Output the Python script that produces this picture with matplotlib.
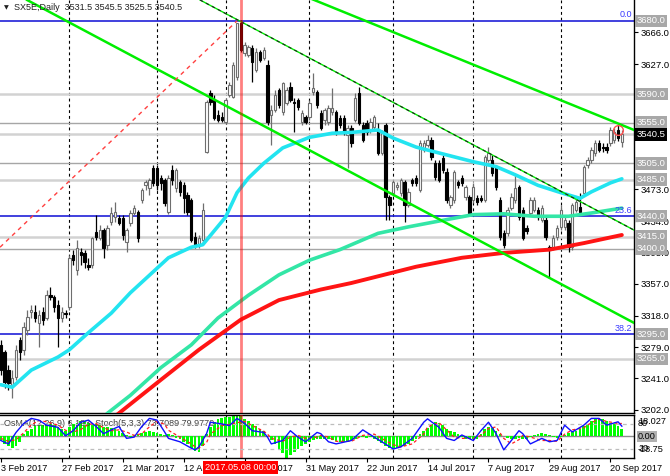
import matplotlib

matplotlib.use("Agg")
from matplotlib import pyplot as plt

plt.rcParams["font.family"] = ["Liberation Sans", "DejaVu Sans"]

# daily candles, 3 Feb 2017 .. 25 Sep 2017 (one per trading day)
opens = [
    3282, 3273, 3251, 3233, 3243, 3288, 3276, 3300, 3322, 3322,
    3309, 3322, 3315, 3343, 3341, 3331, 3315, 3321, 3329, 3392,
    3374, 3396, 3395, 3380, 3380, 3421, 3413, 3423, 3405, 3433,
    3439, 3438, 3438, 3408, 3432, 3444, 3445, 3460, 3478, 3475,
    3499, 3499, 3487, 3485, 3445, 3497, 3475, 3482, 3478, 3466,
    3460, 3415, 3405, 3411, 3519, 3591, 3583, 3564, 3562, 3556,
    3589, 3586, 3611, 3677, 3641, 3638, 3647, 3620, 3642, 3634,
    3626, 3564, 3571, 3595, 3568, 3579, 3599, 3580, 3583, 3556,
    3562, 3562, 3593, 3593, 3567, 3558, 3556, 3568, 3568, 3561,
    3561, 3540, 3548, 3558, 3591, 3552, 3555, 3546, 3550, 3546,
    3518, 3552, 3464, 3469, 3476, 3469, 3482, 3454, 3485, 3487,
    3472, 3521, 3528, 3534, 3505, 3505, 3512, 3494, 3454, 3460,
    3482, 3487, 3464, 3464, 3460, 3462, 3462, 3460, 3509, 3509,
    3499, 3460, 3419, 3419, 3450, 3460, 3476, 3448, 3426, 3444,
    3448, 3448, 3435, 3435, 3402, 3402, 3415, 3427, 3427, 3432,
    3402, 3448, 3451, 3469, 3503, 3509, 3518, 3530, 3525, 3525,
    3530, 3534, 3546, 3531.5,
]
highs = [
    3288, 3276, 3257, 3251, 3282, 3292, 3310, 3325, 3331, 3331,
    3325, 3329, 3349, 3353, 3343, 3337, 3329, 3325, 3392, 3399,
    3411, 3401, 3399, 3389, 3414, 3442, 3429, 3426, 3429, 3451,
    3457, 3442, 3442, 3426, 3448, 3454, 3448, 3475, 3485, 3487,
    3503, 3503, 3491, 3487, 3491, 3503, 3499, 3485, 3482, 3470,
    3462, 3421, 3417, 3456, 3583, 3595, 3589, 3571, 3568, 3585,
    3605, 3630, 3678, 3681, 3654, 3650, 3650, 3647, 3644, 3648,
    3632, 3577, 3595, 3598, 3605, 3599, 3605, 3585, 3585, 3571,
    3564, 3583, 3616, 3595, 3571, 3573, 3577, 3598, 3571, 3564,
    3564, 3552, 3552, 3591, 3599, 3556, 3558, 3561, 3564, 3555,
    3546, 3555, 3466, 3485, 3482, 3487, 3485, 3475, 3487, 3491,
    3534, 3534, 3540, 3537, 3509, 3509, 3515, 3499, 3466, 3497,
    3485, 3491, 3478, 3466, 3481, 3466, 3466, 3515, 3525, 3515,
    3503, 3464, 3423, 3451, 3469, 3491, 3478, 3451, 3429, 3464,
    3464, 3451, 3454, 3439, 3405, 3417, 3429, 3454, 3439, 3435,
    3456, 3462, 3469, 3503, 3513, 3525, 3534, 3534, 3530, 3530,
    3550, 3548, 3552, 3545.5,
]
lows = [
    3245, 3229, 3227, 3217, 3239, 3263, 3270, 3294, 3315, 3310,
    3279, 3306, 3313, 3337, 3322, 3279, 3310, 3315, 3325, 3380,
    3368, 3380, 3376, 3374, 3376, 3411, 3411, 3389, 3399, 3429,
    3433, 3429, 3411, 3396, 3428, 3442, 3408, 3456, 3472, 3466,
    3477, 3472, 3472, 3453, 3443, 3478, 3470, 3465, 3444, 3442,
    3408, 3401, 3401, 3408, 3518, 3577, 3558, 3556, 3556, 3553,
    3586, 3585, 3607, 3642, 3637, 3636, 3605, 3617, 3630, 3632,
    3552, 3528, 3568, 3573, 3564, 3577, 3580, 3543, 3571, 3552,
    3553, 3558, 3589, 3573, 3546, 3552, 3552, 3564, 3540, 3548,
    3540, 3499, 3525, 3556, 3552, 3531, 3540, 3542, 3546, 3515,
    3515, 3435, 3435, 3465, 3472, 3465, 3433, 3451, 3477, 3477,
    3470, 3519, 3525, 3509, 3485, 3482, 3493, 3456, 3450, 3456,
    3475, 3477, 3460, 3440, 3456, 3454, 3457, 3457, 3507, 3489,
    3472, 3411, 3401, 3416, 3448, 3456, 3435, 3411, 3418, 3440,
    3445, 3435, 3433, 3411, 3364, 3399, 3411, 3423, 3423, 3396,
    3399, 3445, 3443, 3466, 3499, 3505, 3514, 3519, 3519, 3518,
    3526, 3530, 3532, 3525.5,
]
closes = [
    3251, 3236, 3235, 3241, 3276, 3273, 3304, 3316, 3325, 3315,
    3319, 3313, 3343, 3341, 3329, 3315, 3322, 3320, 3389, 3386,
    3401, 3392, 3384, 3378, 3413, 3414, 3423, 3401, 3426, 3444,
    3445, 3432, 3417, 3423, 3444, 3450, 3413, 3472, 3482, 3485,
    3481, 3478, 3481, 3456, 3487, 3485, 3497, 3470, 3462, 3445,
    3411, 3405, 3413, 3448, 3580, 3580, 3561, 3558, 3558, 3583,
    3601, 3626, 3677, 3644, 3650, 3648, 3630, 3642, 3632, 3644,
    3556, 3571, 3589, 3577, 3604, 3595, 3583, 3579, 3574, 3567,
    3556, 3579, 3598, 3577, 3548, 3571, 3573, 3573, 3543, 3552,
    3543, 3548, 3530, 3585, 3555, 3534, 3543, 3556, 3562, 3518,
    3542, 3464, 3454, 3482, 3478, 3485, 3454, 3470, 3481, 3481,
    3530, 3530, 3534, 3513, 3488, 3485, 3497, 3460, 3464, 3494,
    3478, 3481, 3476, 3444, 3476, 3457, 3460, 3513, 3518, 3493,
    3476, 3415, 3405, 3448, 3464, 3475, 3439, 3413, 3422, 3460,
    3460, 3439, 3450, 3415, 3399, 3413, 3426, 3448, 3435, 3402,
    3454, 3457, 3445, 3500, 3509, 3521, 3530, 3521, 3524, 3521,
    3546, 3543, 3536, 3540.5,
]

# moving averages, read at sample bars
fast_ma_bars = [0, 3, 8, 15, 18, 23, 29, 34, 44, 50, 53, 59, 62, 65, 69, 74, 81, 87,
                92, 99, 103, 109, 114, 119, 124, 130, 135, 141, 147, 152, 155, 160, 163]
fast_ma = [3233, 3230, 3251, 3267, 3276, 3297, 3321, 3346, 3389, 3402, 3405, 3439, 3469,
           3487, 3505, 3524, 3537, 3542, 3543, 3546, 3536, 3525, 3519, 3513, 3507, 3501,
           3491, 3478, 3469, 3462, 3470, 3481, 3486]
mid_ma_bars = [24, 28, 34, 42, 50, 57, 65, 73, 81, 89, 99, 107, 116, 124, 132, 140, 149, 155, 163]
mid_ma = [3180, 3198, 3220, 3254, 3282, 3315, 3343, 3368, 3386, 3399, 3419, 3427, 3435,
          3442, 3443, 3440, 3440, 3444, 3450]
slow_ma_bars = [26, 31, 42, 52, 63, 73, 84, 92, 109, 121, 132, 144, 153, 163]
slow_ma = [3180, 3198, 3239, 3276, 3313, 3337, 3350, 3358, 3378, 3389, 3395, 3399, 3407, 3417]

# drawn objects: trend lines (bar, price) end points
upper_line = ([80, 166.2], [3710, 3546])
middle_line = ([6.9, 166.2], [3705.7, 3309])
thin_line = ([52.3, 166.2], [3705.7, 3423])
fibo_trend = ([-0.2, 62], [3402, 3680])
fibo_levels = [("0.0", 3680.0), ("23.6", 3440.0), ("38.2", 3295.0)]
marked_bar, marked_price = 162, 3546

light_levels = [3590.0, 3485.0, 3415.0, 3265.0]
dark_levels = [3555.0, 3505.0, 3400.0]
boxed_levels = [3680.0, 3590.0, 3555.0, 3505.0, 3485.0, 3440.0, 3415.0, 3400.0, 3295.0, 3265.0]
last_price = 3540.5
price_ticks = [3666.0, 3627.0, 3588.0, 3550.0, 3511.0, 3473.0, 3434.0, 3395.0, 3357.0,
               3318.0, 3279.0, 3241.0, 3202.0]
hidden_ticks = [3588.0, 3550.0, 3511.0]

# OsMA(12,26,9) histogram, one per bar
osma = [
    -4, -7, -9, -10.5, -9, -5, 1.5, 4, 6, 8.5,
    9, 9, 10, 10, 9, 7.5, 5.5, 4.5, 7.5, 10,
    11.5, 13, 13, 11.5, 10.5, 10, 9, 7.5, 7.5, 7,
    5.5, 4, 2.5, 1, -1, 1, 1.5, 2.5, 3, 4,
    3, 2.5, 1.5, 1, 1.5, 1, -1.5, -3, -5.5, -7.5,
    -10.5, -13, -14, -9, 1.5, 7.5, 12, 14.5, 15, 16,
    16, 17, 18.027, 17, 14.5, 13, 10.5, 8.5, 6, 4.5,
    0, -4, -7.5, -11.5, -14.5, -18.75, -16.5, -14, -11.5, -9,
    -7, -5.5, -4, -3, -3, -2.5, -2.5, -4, -4.5, -5.5,
    -5.5, -4.5, -4, -2.5, -1, -1, -1.5, -1, -2.5, -4.5,
    -6, -9, -10.5, -11.5, -10.5, -10, -9, -7, -4.5, -2.5,
    1.5, 4, 7, 10, 12, 11.5, 9, 6, 4, 3,
    1.5, -1, -2.5, -3, -3, -2.5, 1.5, 5.5, 7.5, 7,
    4.5, 1.5, 0, -1.5, -2.5, -2.5, -1.5, -3, -2.5, -1,
    1, 1.5, 2.5, 1.5, 1, -1, -1.5, -1, 1, 2.5,
    3, 4.5, 6, 8.5, 10.5, 13, 14.5, 15, 14.5, 13,
    11.5, 10.5, 8.5, 6.193,
]
# Stochastic(5,3,3), read at sample bars
stoch_bars = [0, 2, 4, 6, 8, 10, 12, 15, 17, 19, 21, 23, 25, 27, 29, 31, 33, 35, 37, 39,
              41, 43, 44, 47, 50, 51, 52, 54, 55, 58, 60, 62, 64, 66, 69, 70, 71, 74, 76, 78,
              80, 83, 84, 86, 88, 92, 95, 98, 100, 103, 105, 108, 111, 112, 115, 117, 119, 121,
              124, 126, 128, 130, 132, 134, 136, 137, 139, 142, 144, 146, 148, 150, 153, 155,
              157, 159, 162, 163]
stoch_main = [40, 32, 59, 80, 92, 88, 76, 71, 51, 63, 83, 88, 73, 56, 65, 73, 45, 48, 73, 92,
              88, 60, 45, 37, 22, 18, 25, 56, 83, 79, 75, 92, 80, 63, 59, 48, 32, 40, 63, 48,
              37, 59, 56, 37, 32, 40, 65, 48, 37, 20, 25, 45, 83, 91, 71, 45, 40, 53,
              40, 63, 83, 56, 18, 40, 63, 56, 32, 45, 37, 40, 76, 60, 76, 92,
              92, 76, 84, 73.7]
stoch_signal = [45, 38, 42, 58, 77, 87, 84, 76, 64, 60, 66, 78, 80, 70, 63, 65, 60, 52, 56, 72,
                85, 78, 64, 48, 32, 25, 22, 35, 55, 75, 78, 82, 85, 75, 62, 55, 45, 38, 48, 52,
                45, 48, 52, 48, 38, 38, 52, 55, 45, 30, 25, 32, 55, 72, 82, 65, 48, 45,
                45, 52, 68, 72, 45, 32, 42, 52, 48, 40, 40, 38, 55, 65, 70, 82,
                90, 85, 80, 80]

date_bars = [0, 16, 32, 48, 64, 80, 96, 112, 128, 144, 160]
date_labels = ["3 Feb 2017", "27 Feb 2017", "21 Mar 2017", "12 Apr 2017", "9 May 2017",
               "31 May 2017", "22 Jun 2017", "14 Jul 2017", "7 Aug 2017", "29 Aug 2017",
               "20 Sep 2017"]
month_start_bars = [18, 41, 59, 81, 103, 124, 147]
cursor_bar, cursor_label = 63, "2017.05.08 00:00"

W, H = 670, 476
fig = plt.figure(figsize=(W / 100, H / 100), dpi=100)
fig.patch.set_facecolor("white")
ax = fig.add_axes([0, 1 - 413 / H, 634 / W, 413 / H])
ax_ind = fig.add_axes([0, 1 - 457.5 / H, 634 / W, 42.5 / H])

x_lim = (-0.21, 166.19)
for a in (ax, ax_ind):
    a.set_xlim(*x_lim)
    a.spines["left"].set_visible(False)
    for side in ("right", "bottom", "top"):
        a.spines[side].set_linewidth(1.0)
        a.spines[side].set_color("black")
    for b in month_start_bars:
        a.axvline(b, color="black", lw=0.8, ls=(0, (2.6, 2.6)), zorder=1)
    a.axvline(cursor_bar, color="#ff0000", alpha=0.5, lw=2.0, zorder=6)
ax.spines["top"].set_visible(False)
ax.set_ylim(3198.3, 3705.7)

# horizontal levels
for p in light_levels:
    ax.axhline(p, color="#d2d2d2", lw=1.8, zorder=1)
for p in dark_levels:
    ax.axhline(p, color="#a6a6a6", lw=1.0, zorder=1)
ax.axhline(last_price, color="#d2d2d2", lw=1.8, zorder=1)
for name, p in fibo_levels:
    ax.axhline(p, color="#2020d8", lw=1.2, zorder=1.5)
    ax.text(165.7, p + 2, name, color="#3a3aff", fontsize=6.5, ha="right", va="bottom", zorder=7)

# candles
bars = range(len(closes))
up = [c >= o for o, c in zip(opens, closes)]
edge = ["#6e6e6e" if u else "black" for u in up]
face = ["white" if u else "black" for u in up]
ax.vlines(list(bars), lows, highs, colors=edge, lw=0.9, zorder=2)
body_h = [max(abs(c - o), 0.8) for o, c in zip(opens, closes)]
body_b = [min(o, c) for o, c in zip(opens, closes)]
ax.bar(list(bars), body_h, bottom=body_b, width=0.62, color=face, edgecolor=edge,
       linewidth=0.8, zorder=2.2)

# moving averages
ax.plot(fast_ma_bars, fast_ma, color="#22e4f0", lw=2.6, zorder=3, solid_capstyle="round")
ax.plot(mid_ma_bars, mid_ma, color="#33e6a6", lw=2.6, zorder=3, solid_capstyle="round")
ax.plot(slow_ma_bars, slow_ma, color="#ff1414", lw=2.8, zorder=3, solid_capstyle="round")

# trend lines
ax.plot(*upper_line, color="#00ee00", lw=1.8, zorder=4)
ax.plot(*middle_line, color="#00ee00", lw=1.8, zorder=4)
ax.plot(*thin_line, color="#00ee00", lw=1.0, zorder=4)
ax.plot(*thin_line, color="#202020", lw=0.8, ls=(0, (3, 3)), zorder=4.1)
ax.plot(*fibo_trend, color="#ff4040", lw=1.0, ls=(0, (3, 3)), zorder=4)
ax.plot(marked_bar, marked_price, marker="o", ms=7, mfc="none", mec="#ff5050", mew=1.0, zorder=5)

# right price scale
ax.yaxis.tick_right()
ax.set_yticks(price_ticks)
ax.set_yticklabels(["" if t in hidden_ticks else f"{t:.1f}" for t in price_ticks])
ax.tick_params(axis="y", direction="out", length=3, width=0.8, pad=1.5, labelsize=6.8)
ax.set_xticks([])
trans = ax.get_yaxis_transform()
for p in boxed_levels:
    ax.text(1.0045, p, f"{p:.1f}", transform=trans, color="white", fontsize=6.8, va="center",
            ha="left", clip_on=False, zorder=10,
            bbox=dict(boxstyle="square,pad=0.18", fc="#a8a8a8", ec="none"))
ax.text(1.0045, last_price, f"{last_price:.1f}", transform=trans, color="white", fontsize=6.8,
        va="center", ha="left", clip_on=False, zorder=11,
        bbox=dict(boxstyle="square,pad=0.18", fc="black", ec="none"))

fig.text(4 / W, 1 - 8 / H, "\u25bc", fontsize=4.5, va="center", ha="left", color="#202020",
         family="DejaVu Sans")
fig.text(14 / W, 1 - 8 / H, "SX5E,Daily  3531.5 3545.5 3525.5 3540.5", fontsize=6.5,
         va="center", ha="left", color="#202020")

# indicator window
ax_ind.set_ylim(-18.75, 18.027)
ax_ind.axhline(0, color="#8c8c8c", lw=1.0, zorder=1.5)
ax_ind.bar(list(bars), osma, width=0.72, color="#00ff00", zorder=2)
ax_st = ax_ind.twinx()
ax_st.set_ylim(0, 100)
ax_st.set_xlim(*x_lim)
for lvl in (80, 20):
    ax_st.axhline(lvl, color="#bdbdbd", lw=0.9, ls=(0, (3, 3)), zorder=1)
ax_st.plot(stoch_bars, stoch_signal, color="#ff2020", lw=0.9, ls=(0, (2.5, 2)), zorder=3)
ax_st.plot(stoch_bars, stoch_main, color="#1010ff", lw=1.0, zorder=4)
ax_st.set_yticks([])
for s in ax_st.spines.values():
    s.set_visible(False)
ax_ind.set_yticks([])
ax_ind.set_xticks(date_bars)
ax_ind.set_xticklabels(date_labels)
for lbl in ax_ind.get_xticklabels():
    lbl.set_ha("left")
ax_ind.tick_params(axis="x", direction="out", length=3, width=0.8, pad=1.5, labelsize=6.6)
ax_ind.text(4 / 634, 0.8, "OsMA(12,26,9) 6.193  Stoch(5,3,3) 73.7089 79.9770",
            transform=ax_ind.transAxes, fontsize=6.5, color="#404040", va="center", zorder=8)

for txt, yy in (("80", 423), ("18.027", 421.5), ("20", 448.5), ("-18.75", 450)):
    fig.text(638 / W, 1 - yy / H, txt, fontsize=6.6, va="center", ha="left", color="black")
fig.text(638 / W, 1 - 436.5 / H, "0.00", fontsize=6.6, va="center", ha="left", color="black",
         bbox=dict(boxstyle="square,pad=0.1", fc="#b0b0b0", ec="none"))

fig.text(ax.transData.transform((cursor_bar, 0))[0] / W, 1 - 467.5 / H, cursor_label,
         fontsize=6.6, color="white", ha="center", va="center",
         bbox=dict(boxstyle="square,pad=0.2", fc="#ff0000", ec="none"))

fig.savefig("out.png", dpi=100)
